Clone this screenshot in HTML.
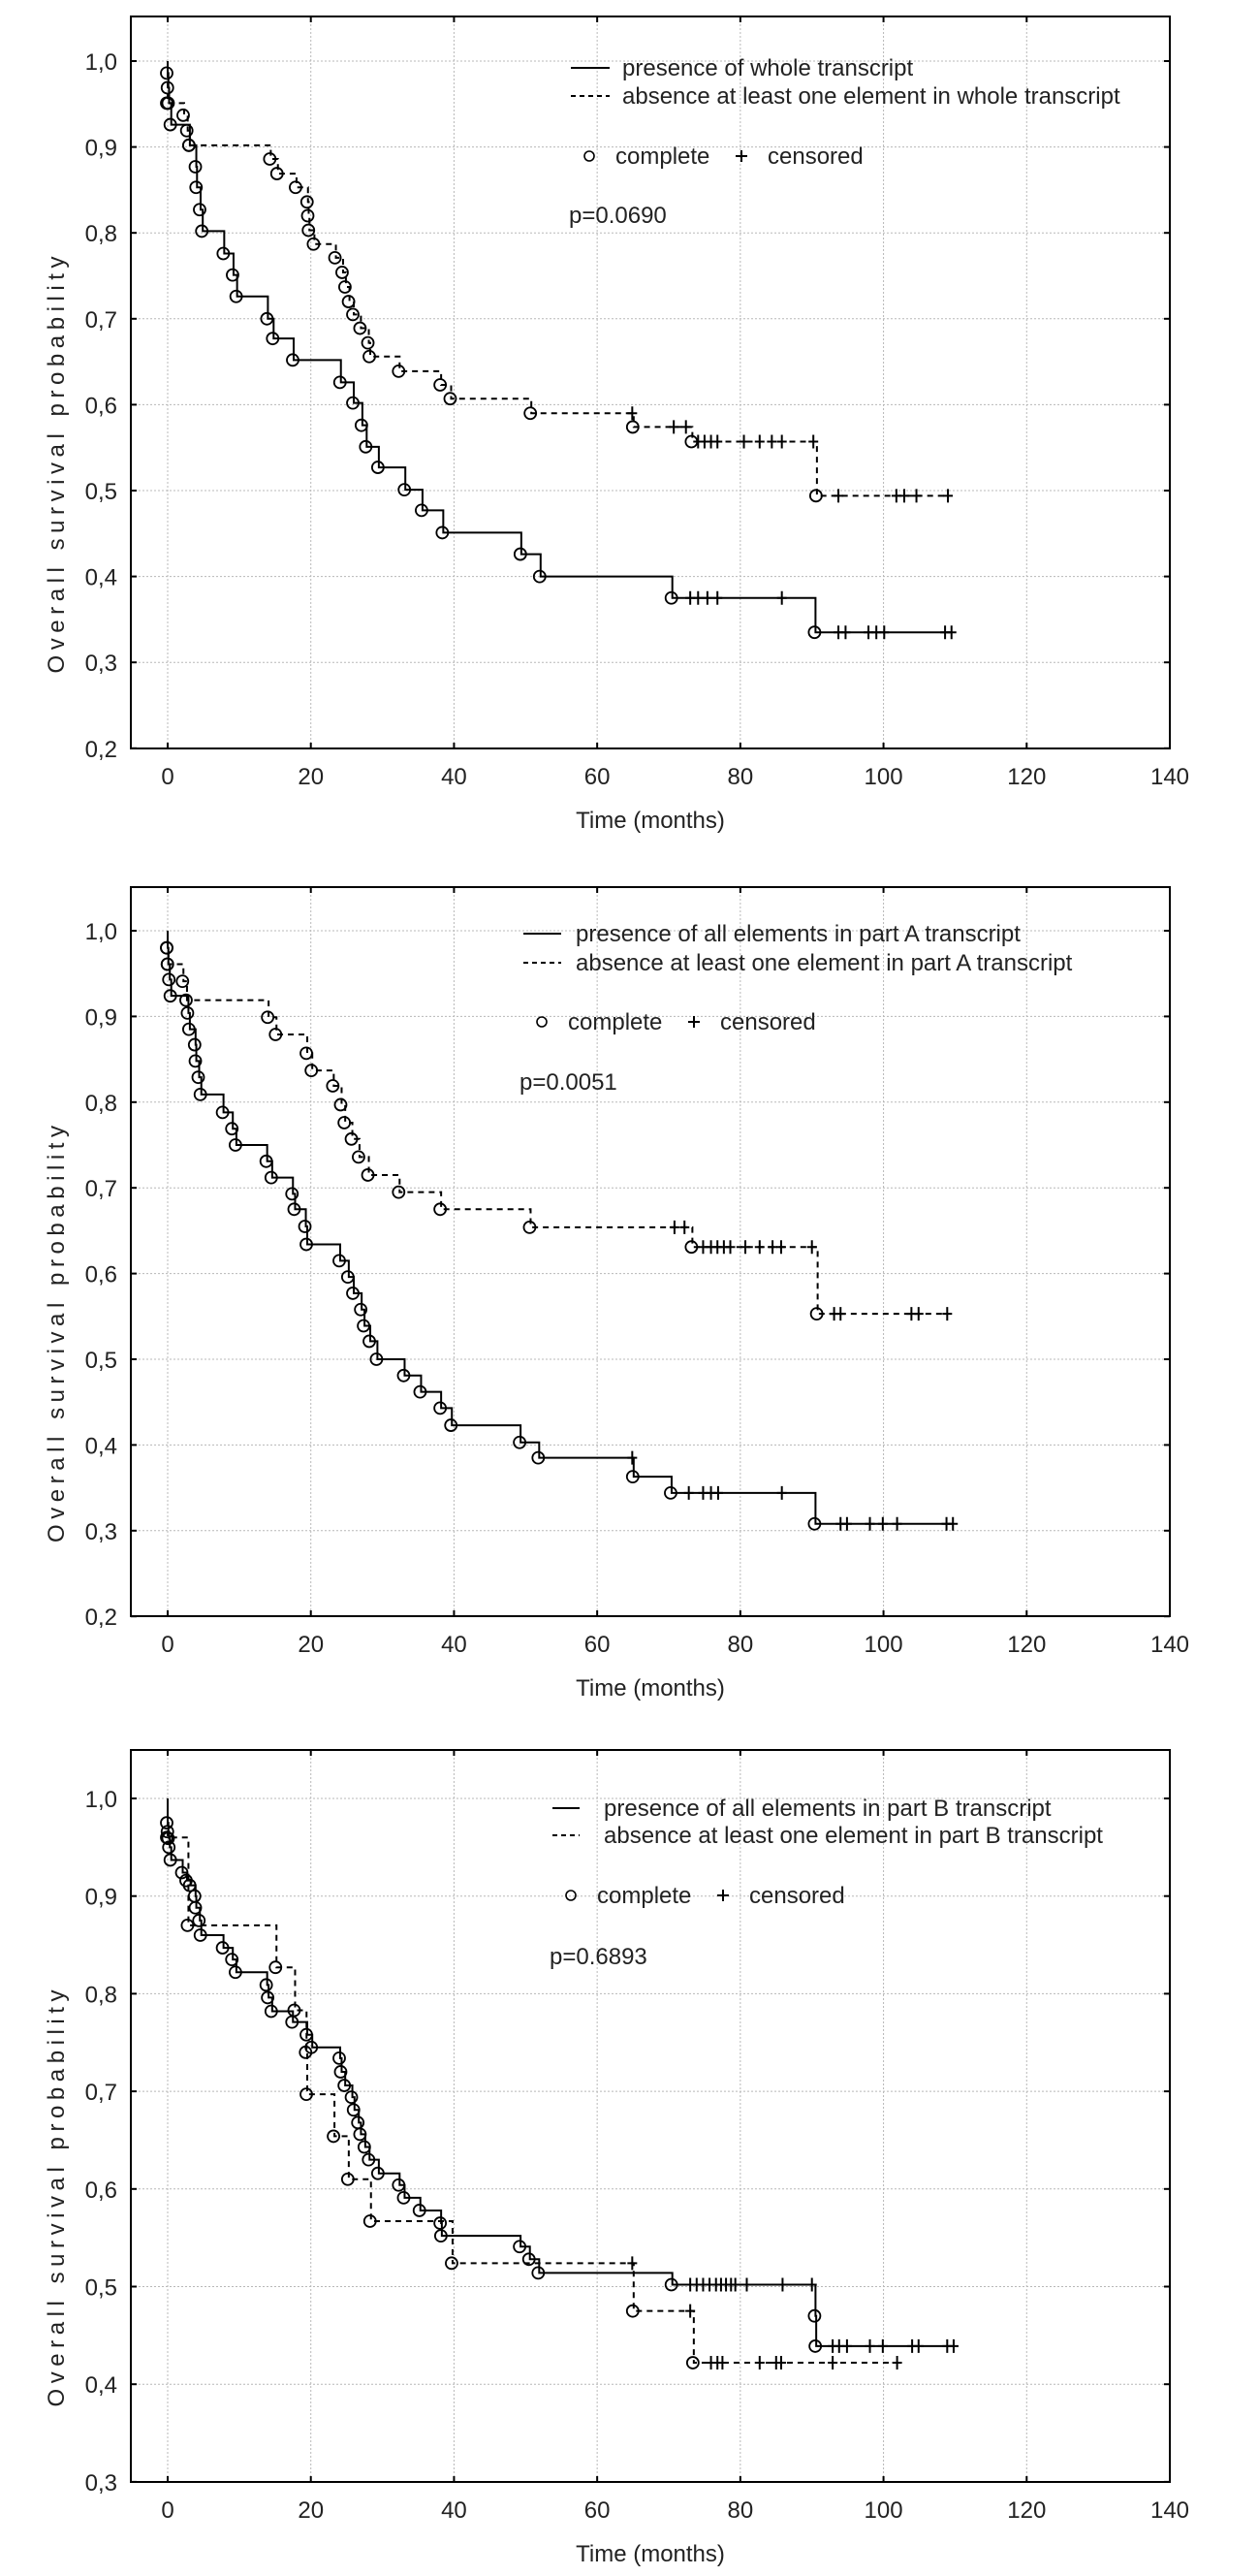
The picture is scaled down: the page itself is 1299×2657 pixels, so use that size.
<!DOCTYPE html>
<html><head><meta charset="utf-8"><style>
html,body{margin:0;padding:0;background:#fff;}
svg{display:block;font-family:"Liberation Sans",Arial,sans-serif;}
</style></head><body>
<svg id="chart" width="1299" height="2657" viewBox="0 0 1299 2657" xmlns="http://www.w3.org/2000/svg"></svg>
<script>
// ---------- data ----------
const xTicks = [0,20,40,60,80,100,120,140];
const yTicksA = [0.2,0.3,0.4,0.5,0.6,0.7,0.8,0.9,1.0];
const yTicksB = [0.3,0.4,0.5,0.6,0.7,0.8,0.9,1.0];
const yTickLabelsA = ["0,2","0,3","0,4","0,5","0,6","0,7","0,8","0,9","1,0"];
const yTickLabelsB = ["0,3","0,4","0,5","0,6","0,7","0,8","0,9","1,0"];

// Panel 1
const p1SolidT = [0,0.1,0.2,0.5,3.1,4,4.1,4.6,4.9,7.9,9.2,9.7,14,14.8,17.6,24.2,26,27.2,27.8,29.5,33.2,35.6,38.5,49.4,52.1,70.5,90.5];
const p1SolidS = [0.986,0.969,0.951,0.926,0.902,0.877,0.853,0.827,0.802,0.776,0.751,0.726,0.70,0.677,0.652,0.626,0.602,0.576,0.551,0.527,0.501,0.477,0.451,0.426,0.40,0.375,0.335];
const p1SolidCens = [73,74.1,75.4,76.8,85.8,93.7,94.7,97.9,99,100.1,108.6,109.5];
const p1DashT = [0,2.3,2.8,3.1,14.4,15.4,18,19.6,19.7,19.8,20.5,23.5,24.5,24.9,25.4,26,27,28.1,28.3,32.4,38.2,39.6,50.8,65.1,73.3,90.7];
const p1DashS = [0.951,0.937,0.919,0.902,0.886,0.869,0.853,0.836,0.82,0.803,0.787,0.771,0.754,0.737,0.72,0.705,0.689,0.672,0.656,0.639,0.623,0.607,0.59,0.574,0.557,0.494];
const p1DashCens = [64.9,70.7,72.4,74.1,75,75.9,76.8,80.5,82.7,84.4,85.8,90.2,93.7,101.8,102.9,104.6,109];

// Panel 2
const p2SolidT = [0,0.1,0.3,0.5,2.9,3.1,3.9,4,4.4,4.7,7.8,9.1,9.6,13.9,14.6,17.5,17.8,19.3,19.5,24.1,25.3,26,27.1,27.5,28.3,29.3,33.1,35.4,38.2,39.7,49.3,51.9,65.1,70.4,90.5];
const p2SolidS = [0.98,0.961,0.943,0.924,0.904,0.885,0.867,0.848,0.829,0.809,0.788,0.769,0.75,0.731,0.712,0.693,0.675,0.655,0.634,0.615,0.596,0.577,0.558,0.539,0.521,0.50,0.481,0.462,0.443,0.423,0.403,0.385,0.363,0.344,0.308];
const p2SolidCens = [64.9,72.8,74.8,75.9,76.9,85.8,94,94.9,98.1,99.9,101.9,108.8,109.7];
const p2DashT = [0,0.1,2.2,2.7,14.1,15.2,19.5,20.2,23.2,24.3,24.8,25.8,26.8,28.1,32.4,38.2,50.7,73.3,90.8];
const p2DashS = [0.98,0.961,0.941,0.919,0.899,0.879,0.857,0.837,0.819,0.797,0.776,0.757,0.736,0.715,0.695,0.675,0.654,0.631,0.553];
const p2DashCens = [70.8,72.2,74.8,75.9,76.8,77.7,78.6,80.7,82.7,84.5,85.7,90,93.1,94,103.9,104.9,108.9];

// Panel 3
const p3SolidT = [0,0.1,0.2,0.3,0.5,2.1,2.7,3.2,3.9,4,4.5,4.7,7.8,9.1,9.6,13.9,14.1,14.6,17.5,19.5,20.2,24.1,24.3,24.8,25.8,26.1,26.7,27,27.6,28.2,29.5,32.4,33.1,35.3,38.2,38.3,49.3,50.6,51.9,70.5,90.5,90.6];
const p3SolidS = [0.975,0.966,0.959,0.95,0.937,0.924,0.916,0.911,0.9,0.888,0.875,0.86,0.847,0.835,0.822,0.809,0.796,0.782,0.771,0.758,0.745,0.734,0.72,0.706,0.694,0.681,0.668,0.656,0.643,0.63,0.616,0.604,0.591,0.578,0.565,0.552,0.541,0.528,0.514,0.502,0.47,0.439];
const p3SolidCens = [73,73.9,74.8,75.7,76.6,77.3,78,78.7,79.3,80.9,85.9,90,92.9,93.8,94.9,98.1,99.9,104,104.9,108.9,109.8];
const p3DashT = [0,2.9,15.2,17.8,19.4,19.5,23.3,25.3,28.4,39.8,65.1,73.5];
const p3DashS = [0.96,0.87,0.827,0.783,0.74,0.697,0.654,0.61,0.567,0.524,0.475,0.422];
const p3DashCens = [64.9,73,75.9,76.8,77.5,82.7,85,85.7,92.9,101.9];

// ---------- drawing ----------
const NS = "http://www.w3.org/2000/svg";
const svg = document.getElementById('chart');
function mk(tag, attrs, parent){
  const e = document.createElementNS(NS, tag);
  for (const k in attrs) e.setAttribute(k, attrs[k]);
  (parent||svg).appendChild(e);
  return e;
}
function txt(str, attrs, parent){ const t = mk('text', attrs, parent); t.textContent = str; return t; }

function valueAt(T, S, c){
  let v = 1.0;
  for (let i=0;i<T.length;i++){ if (T[i] <= c) v = S[i]; }
  return v;
}

function drawPanel(cfg){
  const g = mk('g', {});
  
  
  const X = t => cfg.x0 + t / 140 * (cfg.x140 - cfg.x0);
  const Y = v => cfg.y1 + (1.0 - v) * cfg.pxPerUnit;
  const grid = mk('g', {stroke:'#b8b8b8','stroke-width':1,'stroke-dasharray':'2,2'}, g);
  
  
  xTicks.forEach(t => { if (t<140) mk('line',{x1:X(t),x2:X(t),y1:cfg.top,y2:cfg.bottom},grid); });
  cfg.yTicks.forEach(v => { if (Y(v) < cfg.bottom-1) mk('line',{x1:cfg.left,x2:cfg.right,y1:Y(v),y2:Y(v)},grid); });
  const frame = mk('rect',{x:cfg.left,y:cfg.top,width:cfg.right-cfg.left,height:cfg.bottom-cfg.top,fill:'none',stroke:'#000','stroke-width':2},g);
  
  
  const ticks = mk('g',{stroke:'#000','stroke-width':2},g);
  
  
  xTicks.forEach(t => {
    mk('line',{x1:X(t),x2:X(t),y1:cfg.top,y2:cfg.top+6},ticks);
    mk('line',{x1:X(t),x2:X(t),y1:cfg.bottom,y2:cfg.bottom-6},ticks);
  });
  cfg.yTicks.forEach(v => {
    mk('line',{x1:cfg.right,x2:cfg.right-6,y1:Y(v),y2:Y(v)},ticks);
    mk('line',{x1:cfg.left,x2:cfg.left+6,y1:Y(v),y2:Y(v)},ticks);
  });
  xTicks.forEach(t => {
    const l = txt(String(t),{x:X(t),y:cfg.bottom+37,'font-size':24,'text-anchor':'middle',fill:'#222'},g);
    
    
  });
  cfg.yTicks.forEach((v,i) => {
    const l = txt(cfg.yLabels[i],{x:121,y:Y(v)+9,'font-size':24,'text-anchor':'end',fill:'#222'},g);
    
    
  });
  const xt = txt('Time (months)',{x:(cfg.left+cfg.right)/2,y:cfg.bottom+82,'font-size':24,'text-anchor':'middle',fill:'#222'},g);
  
  
  const yc = (cfg.top+cfg.bottom)/2 + 85;
  const yt = txt('Overall survival probability',{x:0,y:0,'font-size':24,'text-anchor':'middle',textLength:430,lengthAdjust:'spacing',fill:'#222',transform:`translate(66,${yc}) rotate(-90)`},g);
  
  

  function series(T,S,cens,endT,dashed,name){
    const sg = mk('g',{},g);
    
    
    let d = `M${X(0)},${Y(1.0)}`;
    let cur = 1.0;
    for (let i=0;i<T.length;i++){ d += ` L${X(T[i])},${Y(cur)} L${X(T[i])},${Y(S[i])}`; cur = S[i]; }
    d += ` L${X(endT)},${Y(cur)}`;
    const p = mk('path',{d:d,fill:'none',stroke:'#000','stroke-width':2,'stroke-dasharray':dashed?'6,5':'none'},sg);
    
    
    for (let i=0;i<T.length;i++){
      const c = mk('circle',{cx:X(T[i])-1,cy:Y(S[i]),r:6,fill:'none',stroke:'#000','stroke-width':1.8},sg);
      
      
    }
    cens.forEach(t => {
      const v = valueAt(T,S,t);
      const cp = mk('path',{d:`M${X(t)-5},${Y(v)} L${X(t)+5},${Y(v)} M${X(t)},${Y(v)-7} L${X(t)},${Y(v)+7}`,stroke:'#000','stroke-width':2,fill:'none'},sg);
      
      
    });
  }
  series(cfg.sT,cfg.sS,cfg.sC,cfg.sEnd,false,'solid-series');
  series(cfg.dT,cfg.dS,cfg.dC,cfg.dEnd,true,'dashed-series');

  const L = cfg.leg;
  const lg = mk('g',{},g);
  
  
  mk('line',{x1:L.lx1,x2:L.lx2,y1:L.y1,y2:L.y1,stroke:'#000','stroke-width':2},lg);
  mk('line',{x1:L.lx1,x2:L.lx2,y1:L.y2,y2:L.y2,stroke:'#000','stroke-width':2,'stroke-dasharray':'5,4'},lg);
  const e1 = txt(L.t1,{x:L.tx,y:L.y1+8,'font-size':24,fill:'#222'},lg);
  
  
  const e2 = txt(L.t2,{x:L.tx,y:L.y2+8,'font-size':24,fill:'#222'},lg);
  
  
  mk('circle',{cx:L.cx,cy:L.cy,r:5,fill:'none',stroke:'#000','stroke-width':1.6},lg);
  const e3 = txt('complete',{x:L.cx+27,y:L.cy+8,'font-size':24,fill:'#222'},lg);
  
  
  mk('path',{d:`M${L.cx+151},${L.cy} L${L.cx+163},${L.cy} M${L.cx+157},${L.cy-6} L${L.cx+157},${L.cy+6}`,stroke:'#000','stroke-width':2},lg);
  const e4 = txt('censored',{x:L.cx+184,y:L.cy+8,'font-size':24,fill:'#222'},lg);
  
  
  const pv = txt(L.p,{x:L.px,y:L.py+8,'font-size':24,fill:'#222'},g);
  
  
}

drawPanel({name:'panel-whole-transcript',left:135,right:1207,top:17,bottom:772,x0:173,x140:1207,y1:63,pxPerUnit:886,
  yTicks:yTicksA,yLabels:yTickLabelsA,
  sT:p1SolidT,sS:p1SolidS,sC:p1SolidCens,sEnd:109.5,dT:p1DashT,dS:p1DashS,dC:p1DashCens,dEnd:109,
  leg:{lx1:589,lx2:629,y1:70,y2:99,tx:642,t1:'presence of whole transcript',t2:'absence at least one element in whole transcript',cx:608,cy:161,p:'p=0.0690',px:587,py:222}});
drawPanel({name:'panel-part-a',left:135,right:1207,top:915,bottom:1667,x0:173,x140:1207,y1:960,pxPerUnit:884,
  yTicks:yTicksA,yLabels:yTickLabelsA,
  sT:p2SolidT,sS:p2SolidS,sC:p2SolidCens,sEnd:109.7,dT:p2DashT,dS:p2DashS,dC:p2DashCens,dEnd:108.9,
  leg:{lx1:540,lx2:579,y1:963,y2:993,tx:594,t1:'presence of all elements in part A transcript',t2:'absence at least one element in part A transcript',cx:559,cy:1054,p:'p=0.0051',px:536,py:1116}});
drawPanel({name:'panel-part-b',left:135,right:1207,top:1805,bottom:2560,x0:173,x140:1207,y1:1855,pxPerUnit:1007,
  yTicks:yTicksB,yLabels:yTickLabelsB,
  sT:p3SolidT,sS:p3SolidS,sC:p3SolidCens,sEnd:109.8,dT:p3DashT,dS:p3DashS,dC:p3DashCens,dEnd:101.9,
  leg:{lx1:570,lx2:598,y1:1865,y2:1893,tx:623,t1:'presence of all elements in part B transcript',t2:'absence at least one element in part B transcript',cx:589,cy:1955,p:'p=0.6893',px:567,py:2018}});
</script>
</body></html>
